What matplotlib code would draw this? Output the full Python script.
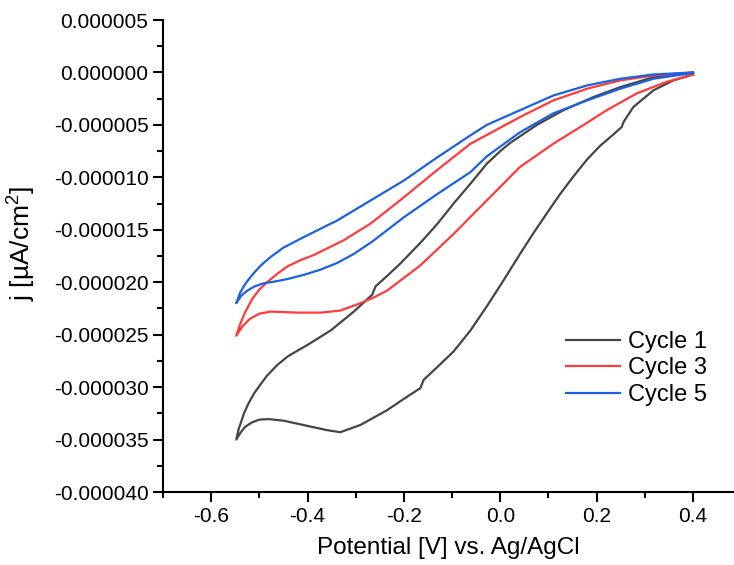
import numpy as np
import matplotlib
matplotlib.use('Agg')
import matplotlib.pyplot as plt
from matplotlib.ticker import MultipleLocator, FormatStrFormatter

# potential [V] and current density (in units of 1e-6)
# each cycle: cathodic sweep 0.4 -> -0.55 then anodic sweep back to 0.4
c1_x = [0.40, 0.359, 0.318, 0.276, 0.256, 0.252, 0.235, 0.207, 0.180, 0.152, 0.124, 0.097,
        0.069, 0.041, 0.007, -0.028, -0.062, -0.097, -0.131, -0.159, -0.166, -0.193,
        -0.235, -0.290, -0.332, -0.36, -0.40, -0.45, -0.48, -0.50, -0.515, -0.53, -0.54, -0.548,
        -0.543, -0.537, -0.532, -0.522, -0.511, -0.497, -0.484, -0.463, -0.442, -0.42,
        -0.401, -0.352, -0.304, -0.266, -0.259, -0.235, -0.207, -0.163, -0.13, -0.097,
        -0.06, -0.028, 0.0, 0.021, 0.076, 0.131, 0.193, 0.249, 0.318, 0.40]
c1_y = [-0.2, -0.76, -1.7, -3.3, -4.7, -5.2, -5.9, -7.0, -8.3, -9.9, -11.6, -13.4,
        -15.3, -17.3, -19.8, -22.3, -24.6, -26.6, -28.1, -29.3, -30.1, -30.9,
        -32.2, -33.6, -34.3, -34.1, -33.7, -33.2, -33.05, -33.1, -33.35, -33.8, -34.4, -35.0,
        -34.0, -33.2, -32.5, -31.5, -30.6, -29.7, -28.9, -27.9, -27.1, -26.5,
        -26.0, -24.6, -22.8, -21.2, -20.4, -19.4, -18.2, -16.1, -14.4, -12.5,
        -10.5, -8.7, -7.5, -6.7, -5.0, -3.6, -2.35, -1.4, -0.45, 0.0]

c3_x = [0.40, 0.345, 0.283, 0.221, 0.166, 0.110, 0.041, -0.028, -0.097, -0.166, -0.235,
        -0.26, -0.290, -0.332, -0.373, -0.42, -0.477, -0.50, -0.52, -0.535, -0.548,
        -0.54, -0.53, -0.515, -0.50, -0.484, -0.463, -0.442, -0.415, -0.387, -0.325,
        -0.269, -0.200, -0.131, -0.062, 0.041, 0.110, 0.180, 0.249, 0.318, 0.40]
c3_y = [-0.2, -0.9, -2.0, -3.6, -5.2, -6.8, -9.0, -12.2, -15.4, -18.4, -20.8,
        -21.4, -22.0, -22.7, -22.9, -22.9, -22.8, -23.0, -23.5, -24.2, -25.1,
        -24.0, -22.9, -21.6, -20.7, -20.0, -19.2, -18.5, -17.9, -17.4, -16.0,
        -14.4, -11.9, -9.3, -6.8, -4.25, -2.67, -1.55, -0.76, -0.29, 0.0]

c5_x = [0.40, 0.318, 0.249, 0.180, 0.110, 0.041, -0.028, -0.062, -0.131, -0.200, -0.265,
        -0.304, -0.338, -0.373, -0.408, -0.442, -0.47, -0.491, -0.51, -0.525, -0.538, -0.548,
        -0.54, -0.53, -0.52, -0.511, -0.497, -0.477, -0.45, -0.408, -0.338, -0.269,
        -0.200, -0.131, -0.062, -0.028, 0.041, 0.110, 0.180, 0.249, 0.318, 0.40]
c5_y = [-0.05, -0.6, -1.55, -2.67, -3.9, -5.7, -8.0, -9.5, -11.6, -13.8, -16.1,
        -17.3, -18.15, -18.8, -19.3, -19.7, -19.95, -20.1, -20.4, -20.8, -21.3, -22.0,
        -21.0, -20.2, -19.6, -19.1, -18.4, -17.6, -16.7, -15.7, -14.1, -12.2,
        -10.3, -8.1, -6.0, -5.0, -3.6, -2.2, -1.24, -0.6, -0.19, 0.0]

labels = ['Cycle 1', 'Cycle 3', 'Cycle 5']
colors = ['#454545', '#ff3b3b', '#1a62e0']

plt.rcParams['font.family'] = ['Liberation Sans', 'DejaVu Sans']
plt.rcParams['axes.unicode_minus'] = False
plt.rcParams['mathtext.fontset'] = 'custom'
plt.rcParams['mathtext.rm'] = 'Liberation Sans'

fig = plt.figure(figsize=(7.34, 5.65), dpi=100)
ax = fig.add_axes([0.2221, 0.1292, 0.7779, 0.8354])

for xs, ys, lab, col in zip([c1_x, c3_x, c5_x], [c1_y, c3_y, c5_y], labels, colors):
    ax.plot(xs, np.array(ys) * 1e-6, color=col, lw=1.6, label=lab)

ax.set_xlim(-0.7, 0.485)
ax.set_ylim(-0.00004, 0.000005)
ax.xaxis.set_major_locator(MultipleLocator(0.2))
ax.xaxis.set_minor_locator(MultipleLocator(0.1))
ax.yaxis.set_major_locator(MultipleLocator(0.000005))
ax.yaxis.set_minor_locator(MultipleLocator(0.0000025))
ax.xaxis.set_major_formatter(FormatStrFormatter('%.1f'))
ax.yaxis.set_major_formatter(FormatStrFormatter('%.6f'))

ax.spines['top'].set_visible(False)
ax.spines['right'].set_visible(False)
for s in ['left', 'bottom']:
    ax.spines[s].set_linewidth(1.5)
ax.tick_params(which='major', direction='out', length=7, width=1.5, labelsize=15)
ax.tick_params(which='minor', direction='out', length=4, width=1.5)

ax.set_xlabel('Potential [V] vs. Ag/AgCl', fontsize=17.5, labelpad=8)
ax.set_ylabel(r'j [µA/cm$^{2}$]', fontsize=19)
ax.yaxis.set_label_coords(-0.221, 0.526)

ax.legend(loc='upper left', bbox_to_anchor=(0.758, 0.431), bbox_transform=fig.transFigure,
          frameon=False, fontsize=17, handlelength=2.3, labelspacing=0.19,
          handletextpad=0.35, borderaxespad=0)

fig.savefig('out.png', dpi=100)
